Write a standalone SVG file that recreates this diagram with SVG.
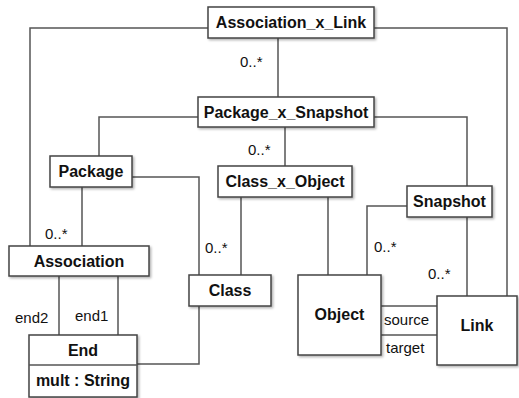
<svg xmlns="http://www.w3.org/2000/svg" width="519" height="398" viewBox="0 0 519 398">
<defs>
<filter id="sh" x="-10%" y="-10%" width="130%" height="140%">
<feDropShadow dx="1.5" dy="1.5" stdDeviation="1.2" flood-color="#000" flood-opacity="0.3"/>
</filter>
<style>
.box{fill:#fff;stroke:#444;stroke-width:1.5;filter:url(#sh)}
.ln{fill:none;stroke:#555;stroke-width:1.5}
.t{font-family:"Liberation Sans",Arial,sans-serif;font-weight:bold;font-size:16px;fill:#111;text-anchor:middle}
.l{font-family:"Liberation Sans",Arial,sans-serif;font-size:15px;fill:#111}
</style>
</defs>
<rect width="519" height="398" fill="#fff"/>
<g id="connectors">
<polyline class="ln" points="208,28 30,28 30,246"/>
<polyline class="ln" points="374,28 507,28 507,296"/>
<line class="ln" x1="278" y1="38" x2="278" y2="97"/>
<polyline class="ln" points="198,117 99,117 99,156"/>
<polyline class="ln" points="374,117 467,117 467,186"/>
<line class="ln" x1="285" y1="127" x2="285" y2="166"/>
<line class="ln" x1="82" y1="187" x2="82" y2="246"/>
<polyline class="ln" points="132,177 199,177 199,275"/>
<line class="ln" x1="241" y1="197" x2="241" y2="275"/>
<line class="ln" x1="328" y1="197" x2="328" y2="275"/>
<polyline class="ln" points="407,206 367,206 367,275"/>
<line class="ln" x1="467" y1="217" x2="467" y2="296"/>
<line class="ln" x1="59" y1="276" x2="59" y2="335"/>
<line class="ln" x1="118" y1="276" x2="118" y2="335"/>
<polyline class="ln" points="199,306 199,364 137,364"/>
<line class="ln" x1="381" y1="306" x2="437" y2="306"/>
<line class="ln" x1="381" y1="335" x2="437" y2="335"/>
<text class="l" x="240" y="67">0..*</text>
<text class="l" x="248" y="155">0..*</text>
<text class="l" x="45" y="239">0..*</text>
<text class="l" x="205" y="253">0..*</text>
<text class="l" x="374" y="252">0..*</text>
<text class="l" x="428" y="279">0..*</text>
<text class="l" x="15" y="323">end2</text>
<text class="l" x="75" y="321">end1</text>
<text class="l" x="384" y="325">source</text>
<text class="l" x="386" y="353">target</text>
</g>
<g id="association_x_link"><rect class="box" x="208" y="7" width="166" height="31"/><text class="t" x="291" y="28">Association_x_Link</text></g>
<g id="package_x_snapshot"><rect class="box" x="198" y="97" width="176" height="30"/><text class="t" x="286" y="118">Package_x_Snapshot</text></g>
<g id="package"><rect class="box" x="50" y="156" width="82" height="31"/><text class="t" x="91" y="177">Package</text></g>
<g id="class_x_object"><rect class="box" x="218" y="166" width="134" height="31"/><text class="t" x="285" y="187">Class_x_Object</text></g>
<g id="snapshot"><rect class="box" x="407" y="186" width="85" height="31"/><text class="t" x="449.5" y="207">Snapshot</text></g>
<g id="association"><rect class="box" x="9" y="246" width="140" height="30"/><text class="t" x="79" y="267">Association</text></g>
<g id="class"><rect class="box" x="189" y="275" width="82" height="31"/><text class="t" x="230" y="296">Class</text></g>
<g id="object"><rect class="box" x="298" y="275" width="83" height="80"/><text class="t" x="339.5" y="320">Object</text></g>
<g id="link"><rect class="box" x="437" y="296" width="80" height="69"/><text class="t" x="477" y="331">Link</text></g>
<g id="end"><rect class="box" x="29" y="335" width="108" height="62"/><line class="ln" x1="29" y1="365" x2="137" y2="365" stroke="#444"/><text class="t" x="83" y="356">End</text><text class="t" x="83" y="386">mult : String</text></g>
</svg>
